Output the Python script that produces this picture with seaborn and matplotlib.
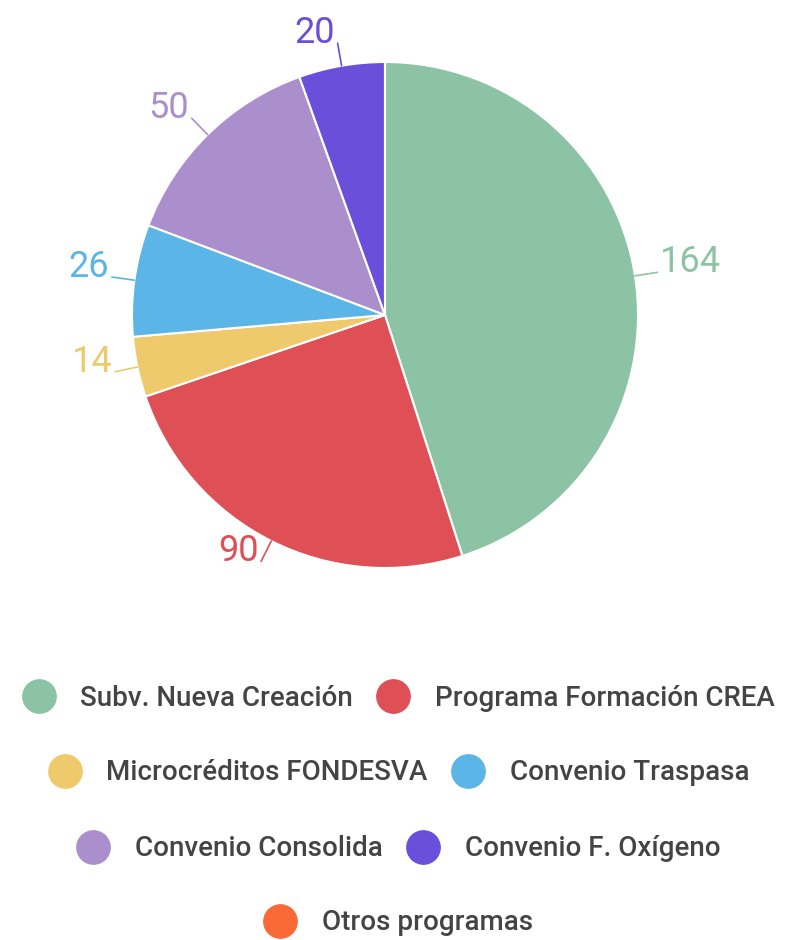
import numpy as np
import matplotlib
matplotlib.use("Agg")
import matplotlib.pyplot as plt
from matplotlib.lines import Line2D
import seaborn as sns

# Data
programs = ["Subv. Nueva Creación", "Programa Formación CREA", "Microcréditos FONDESVA",
            "Convenio Traspasa", "Convenio Consolida", "Convenio F. Oxígeno", "Otros programas"]
counts = [164, 90, 14, 26, 50, 20, 0]
colors = ["#8cc3a5", "#de4f56", "#efca6c", "#5bb5e6", "#ab8fcc", "#6a4fdb", "#fa6a36"]

sns.set_theme(style="white")
plt.rcParams["font.family"] = ["Roboto", "DejaVu Sans"]

fig = plt.figure(figsize=(7.89, 9.40), dpi=100)

# pie axes: center (385, 315) px, radius 253 px
R = 253
span = 1.5
W, H = 789, 940
size = 2 * R * span
ax = fig.add_axes([(385 - size / 2) / W, (H - 315 - size / 2) / H, size / W, size / H])

wedges, _ = ax.pie(counts, colors=colors, startangle=90, counterclock=False,
                   wedgeprops=dict(edgecolor="white", linewidth=1.5))
ax.set_xlim(-span, span)
ax.set_ylim(-span, span)
ax.set_aspect("equal")
ax.axis("off")

# value labels with leader lines
total = sum(counts)
cum = 0
for val, col in zip(counts, colors):
    if val == 0:
        cum += val
        continue
    mid = (cum + val / 2) / total * 2 * np.pi
    cum += val
    dx, dy = np.sin(mid), np.cos(mid)
    x0, y0 = dx, dy
    x1, y1 = 1.09 * dx, 1.09 * dy
    ax.plot([x0, x1], [y0, y1], color=col, lw=1.2)
    ha = "left" if dx > 0 else "right"
    ax.text(x1 + (0.01 if dx > 0 else -0.01), y1, str(val), color=col,
            fontsize=26, ha=ha, va="baseline")

# legend rows
rows = [[0, 1], [2, 3], [4, 5], [6]]
row_y = [698, 773, 849, 923]
for idx, y in zip(rows, row_y):
    handles = [Line2D([], [], marker="o", linestyle="", markersize=24,
                      markerfacecolor=colors[i], markeredgecolor=colors[i]) for i in idx]
    labels = [programs[i] for i in idx]
    fig.legend(handles, labels, loc="center", bbox_to_anchor=(0.505, 1 - y / H),
               ncol=len(idx), frameon=False, labelcolor="#444444",
               prop=dict(size=20, weight="medium"),
               handlelength=1.2, handletextpad=0.9, columnspacing=0.85, borderpad=0,
               borderaxespad=0)

fig.savefig("out.png", dpi=100, facecolor="white")
